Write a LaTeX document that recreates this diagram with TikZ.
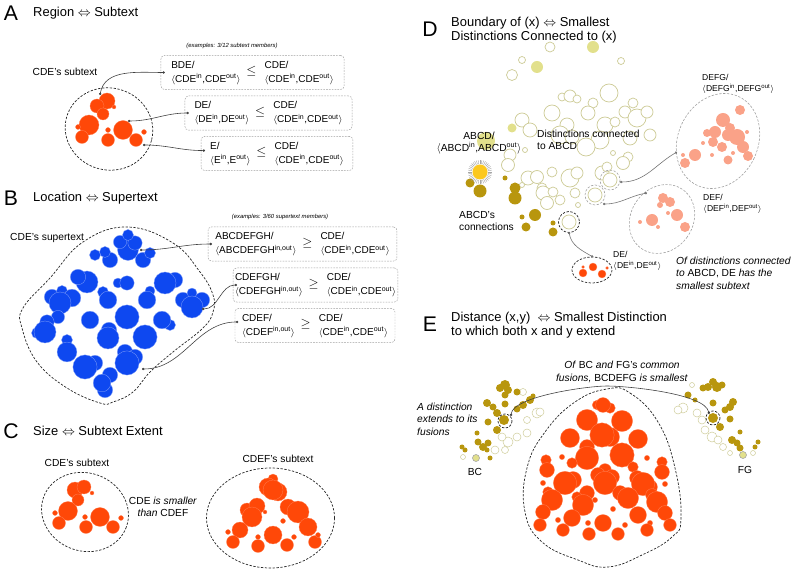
\documentclass[tikz,border=0pt]{standalone}
\usepackage{fontspec}
\setmainfont{Liberation Sans}
\usetikzlibrary{positioning,arrows.meta}

\definecolor{subred}{RGB}{255,72,8}
\definecolor{superblue}{RGB}{14,72,240}
\definecolor{olivegold}{RGB}{184,150,14}
\definecolor{palegold}{RGB}{226,224,140}
\definecolor{paleline}{RGB}{205,203,150}
\definecolor{peach}{RGB}{250,162,136}
\definecolor{sungold}{RGB}{252,200,30}

\newcommand{\pairio}[1]{$\langle$#1\textsuperscript{in},#1\textsuperscript{out}$\rangle$}
\newcommand{\cmprow}[5]{%
  \begin{tabular}[c]{@{}l@{}}#1\\#2\end{tabular}%
  \hspace{5pt}{\fontsize{11}{11}\selectfont$#3$}\hspace{7pt}%
  \begin{tabular}[c]{@{}l@{}}#4\\#5\end{tabular}}

\begin{document}
\begin{tikzpicture}[x=0.85pt, y=-0.85pt,
    panel/.style={font=\fontsize{18}{18}\selectfont, inner sep=0},
    ttl/.style={font=\fontsize{11}{12}\selectfont, anchor=west, align=left, inner sep=0},
    lbl/.style={font=\fontsize{8.7}{10.6}\selectfont, inner sep=0},
    sml/.style={font=\fontsize{7.3}{9.4}\selectfont, inner sep=0, anchor=west, align=left},
    note/.style={font=\fontsize{5}{6}\selectfont\itshape, inner sep=0},
    cmpbox/.style={draw=gray!75, dash pattern=on 1.4pt off 1pt, rounded corners=3pt, font=\fontsize{8.5}{11.8}\selectfont, inner sep=0, minimum height=29pt},
    link/.style={draw=black!75, line width=0.5pt, arrows={Circle[length=2pt]-Circle[length=2pt]}},
    bdash/.style={draw=black!85, line width=0.6pt, dash pattern=on 2pt off 1.3pt},
    gdash/.style={draw=gray!75, line width=0.5pt, dash pattern=on 2pt off 1.3pt},
    hotdot/.style={fill=subred, draw=subred!70!white, line width=0.25pt},
    bluedot/.style={fill=superblue, draw=superblue!55!white, line width=0.3pt},
    golddot/.style={fill=olivegold},
    palefill/.style={fill=palegold},
    ringdot/.style={draw=paleline, fill=white, line width=0.6pt},
    peachdot/.style={fill=peach},
  ]
  \useasboundingbox (0,0) rectangle (796,573);

  % ---------------- A: Region <=> Subtext
  \node[panel] (letterA) at (11,13) {A};
  \node[ttl] (titleA) at (33,13) {Region $\Leftrightarrow$ Subtext};
  \node[lbl] (subA) at (65,72) {CDE’s subtext};
  \node[note] (noteA) at (232,46) {(examples: 3/12 subtext members)};
  \draw[bdash, rotate around={-15:(109,129)}] (109,129) ellipse [x radius=44, y radius=41];
  \foreach \x/\y/\r in {107/101/8, 97/106/7, 103/114/6, 114/107/2, 89/125/10, 78/127/2.5,
      82/137/6.5, 108/130/2.5, 108/140/6.5, 123/130/9.5, 136/140/6.5, 144/132/2.5}
    \path[hotdot] (\x,\y) circle (\r);

  \node[cmpbox, minimum width=155.6pt] (boxA1) at (252.5,72.5)
    {\cmprow{BDE/}{\pairio{CDE}}{\leq}{CDE/}{\pairio{CDE}}};
  \node[cmpbox, minimum width=142pt] (boxA2) at (268.5,113)
    {\cmprow{DE/}{\pairio{DE}}{\leq}{CDE/}{\pairio{CDE}}};
  \node[cmpbox, minimum width=129pt] (boxA3) at (277,153.5)
    {\cmprow{E/}{\pairio{E}}{\leq}{CDE/}{\pairio{CDE}}};

  \coordinate (pA1) at (100,95);
  \coordinate (pA2) at (128,121);
  \coordinate (pA3) at (143,145);
  \draw[link] (pA1) to[out=80,in=180] ([xshift=3.5pt]boxA1.west);
  \draw[link] (pA2) to[out=0,in=180] ([xshift=3.5pt]boxA2.west);
  \draw[link] (pA3) to[out=0,in=180] ([xshift=3.5pt,yshift=2.5pt]boxA3.west);

  % ---------------- B: Location <=> Supertext
  \node[panel] (letterB) at (11,198) {B};
  \node[ttl] (titleB) at (33,198) {Location $\Leftrightarrow$ Supertext};
  \node[lbl, anchor=west] (supB) at (10,238) {CDE’s supertext};
  \node[note] (noteB) at (280,217) {(examples: 3/60 supertext members)};
  \draw[bdash] plot[smooth cycle, tension=0.7] coordinates {(127,227) (173,243) (200,272) (213,295)
      (213,312) (203,328) (173,352) (150,372) (133,392) (113,402) (100,403) (67,388) (37,362)
      (22,328) (23,308) (50,278) (83,242)};
  \foreach \x/\y/\r in {128/250/9.5, 120/242/6, 135/243/6.5, 128/235/5, 143/260/7, 150/253/5,
      110/260/7, 105/252/5, 95/255/5, 87/282/10, 78/277/7, 52/297/7, 62/291/5, 72/298/8,
      60/303/10, 58/317/6, 37/333/5, 47/322/6.5, 45/332/10, 67/340/5, 67/352/9, 95/363/7,
      85/367/11, 110/375/7, 105/390/7, 102/383/8, 103/292/5, 108/300/8, 118/283/4.5,
      127/283/6.5, 90/320/8, 127/317/11, 109/330/7, 108/338/10, 125/352/7, 135/357/7,
      127/363/11, 145/337/11, 150/291/4.5, 147/300/8, 175/280/7, 165/283/10, 170/325/5,
      162/320/8, 183/300/7, 202/300/7, 192/293/4.5, 192/307/10}
    \path[bluedot] (\x,\y) circle ({\r*1.1});

  \node[cmpbox, minimum width=160.6pt] (boxB1) at (302.5,244)
    {\cmprow{ABCDEFGH/}{$\langle$ABCDEFGH\textsuperscript{in,out}$\rangle$}{\geq}{CDE/}{\pairio{CDE}}};
  \node[cmpbox, minimum width=140pt] (boxB2) at (315.5,285)
    {\cmprow{CDEFGH/}{$\langle$CDEFGH\textsuperscript{in,out}$\rangle$}{\geq}{CDE/}{\pairio{CDE}}};
  \node[cmpbox, minimum width=136pt] (boxB3) at (315,325.5)
    {\cmprow{CDEF/}{$\langle$CDEF\textsuperscript{in,out}$\rangle$}{\geq}{CDE/}{\pairio{CDE}}};

  \coordinate (pB1) at (140,250);
  \coordinate (pB2) at (202,309);
  \coordinate (pB3) at (142,369);
  \draw[link] (pB1) to[out=0,in=180] ([xshift=3.5pt]boxB1.west);
  \draw[link] (pB2) to[out=0,in=180] ([xshift=3.5pt]boxB2.west);
  \draw[link] (pB3) to[out=0,in=180] ([xshift=3pt,yshift=3pt]boxB3.west);

  % ---------------- C: Size <=> Subtext Extent
  \node[panel] (letterC) at (11,431) {C};
  \node[ttl] (titleC) at (33,431) {Size $\Leftrightarrow$ Subtext Extent};
  \node[lbl] (subC1) at (77,463) {CDE’s subtext};
  \node[lbl] (subC2) at (278,459) {CDEF’s subtext};
  \node[lbl, align=center] (cmpC) at (163,507) {CDE \textit{is smaller}\\\textit{than} CDEF};
  \draw[bdash, rotate around={-20:(85,512)}] (85,512) ellipse [x radius=44, y radius=39];
  \draw[bdash] (270.5,518) ellipse [x radius=64, y radius=50];
  \foreach \x/\y/\r in {75/490/8, 84/487/7, 78/500/6, 92/493/2, 68/511/9.5, 55/513/2.5,
      59/523/6.5, 85/517/2.5, 86/527/6.5, 100/517/9.5, 113/527/6.5, 121/518/2.5}
    \path[hotdot] (\x,\y) circle (\r);
  \foreach \x/\y/\r in {273/479/5, 268/487/9, 278/492/9, 273/490/10, 247/510/7, 257/506/8,
      252/517/10, 265/512/2, 240/530/8, 228/532/2.5, 233/542/6.5, 258/537/2.5, 258/546/6.5,
      273/535/9, 283/521/2.5, 288/507/8, 298/512/11, 308/527/9, 287/545/6.5, 294/537/2.5,
      315/542/6.5, 318/535/2.5}
    \path[hotdot] (\x,\y) circle (\r);

  % ---------------- D: Boundary
  \node[panel] (letterD) at (430,29) {D};
  \node[ttl] (titleD) at (451,30) {Boundary of (x) $\Leftrightarrow$ Smallest\\Distinctions Connected to (x)};
  \foreach \x/\y/\r in {550/47/5, 522/60/3.5, 512/75/5.5, 621/61/3.5, 562/97/4, 570/96/6,
      577/99/4, 609/93/9, 593/103/5, 633/103/5, 552/113/8, 588/113/7, 625/112/6, 637/118/9,
      647/112/6, 522/120/7, 530/130/7, 567/125/7, 605/125/8, 615/122/5, 560/135/9, 572/137/7,
      600/140/9, 586/147/9, 630/138/7, 650/135/6, 613/153/2.5, 628/157/5, 525/150/2.5,
      510/155/6, 508/165/6.5, 528/178/7, 537/177/6.5, 552/172/5, 570/178/9, 577/173/6,
      602/173/7, 607/167/5, 623/163/6.5, 542/188/5, 543/193/7, 553/192/5, 547/203/6.5,
      560/200/5, 575/193/5, 578/205/2.5, 522/185/2.5, 569/222/7, 610/180/7, 595/195/7}
    \path[ringdot] (\x,\y) circle (\r);
  \foreach \x/\y/\r in {593/47/6, 537/67/6, 512/128/4.5, 486/141/9}
    \path[palefill] (\x,\y) circle (\r);
  \foreach \x/\y/\r in {470/183/4.5, 480/191/6.5, 505/178/2.5, 515/188/5.5, 515/198/6.5,
      535/215/6, 522/217/2.5, 526/227/4.5, 553/223/2.5, 553/232/4.5}
    \path[golddot] (\x,\y) circle (\r);
  \coordinate (sun) at (480,172);
  \foreach \a in {0,9,...,351}
    \draw[gray!70, line width=0.35pt] (sun) ++(\a:8) -- ++(\a:4);
  \fill[sungold] (sun) circle (7.5);

  \draw[bdash] (569,222) circle (10.5);
  \draw[gdash] (610,180) circle (10);
  \draw[gdash] (595,195) circle (10);

  \draw[gdash, rotate around={-25:(718,141)}] (718,141) ellipse [x radius=40, y radius=49];
  \draw[gdash, rotate around={-35:(662,219)}] (662,219) ellipse [x radius=31, y radius=36];
  \draw[bdash] (592,270) ellipse [x radius=20, y radius=13];
  \foreach \x/\y/\r in {740/110/5, 723/120/7, 730/128/5, 715/132/6, 707/133/4, 728/135/6,
      737/137/8, 743/147/6, 722/147/5, 713/142/5, 703/143/2, 695/155/6, 685/163/5, 683/155/2,
      712/155/2, 728/160/4.5, 748/156/5, 733/153/2, 747/132/2,
      663/198/5, 670/202/5, 660/205/3, 677/215/6, 652/220/6, 668/213/2, 685/227/5, 640/222/2,
      658/227/2}
    \path[peachdot] (\x,\y) circle (\r);
  \foreach \x/\y/\r in {593/267/4, 583/273/4, 602/274/4, 583/267/1.5, 607/268/1.5}
    \path[hotdot] (\x,\y) circle (\r);

  \node[lbl, align=center] (abcd) at (479,143) {ABCD/\\$\langle$ABCD\textsuperscript{in},ABCD\textsuperscript{out}$\rangle$};
  \node[lbl, anchor=west, align=left] (connD) at (537,140) {Distinctions connected\\to ABCD};
  \node[lbl, anchor=west, align=left] (abcdConn) at (459,221) {ABCD’s\\connections};
  \node[sml] (defg) at (702,84) {DEFG/\\\pairio{DEFG}};
  \node[sml] (def) at (703,204) {DEF/\\\pairio{DEF}};
  \node[sml] (de) at (613,261) {DE/\\\pairio{DE}};
  \node[lbl, anchor=west, align=left] (smallD) at (676,273)
    {\textit{Of distinctions connected}\\\textit{to} ABCD, DE \textit{has the}\\\textit{smallest subtext}};

  \coordinate (dA) at (620,182);
  \coordinate (dB) at (603,204);
  \coordinate (dC) at (569,232);
  \coordinate (eDEFG) at (677,152);
  \coordinate (eDEF) at (647,193);
  \coordinate (eDE) at (593,257);
  \draw[link, draw=gray!90!black] (dA) to[out=0,in=210] (eDEFG);
  \draw[link, draw=gray!90!black] (dB) to[out=0,in=190] (eDEF);
  \draw[link, draw=gray!90!black] (dC) to[out=-80,in=150] (eDE);

  % ---------------- E: Distance
  \node[panel] (letterE) at (430,324) {E};
  \node[ttl] (titleE) at (451,325) {Distance (x,y) \ $\Leftrightarrow$ Smallest Distinction\\to which both x and y extend};
  \draw[bdash] plot[smooth cycle, tension=0.75] coordinates {(607,389) (630,393) (658,422) (675,468)
      (681,518) (672,537) (642,555) (608,567) (578,560) (542,542) (525,512) (527,468)
      (545,432) (575,402)};
  \foreach \x/\y/\r in {597/405/4.5, 610/408/5, 603/405/7, 587/420/10, 622/421/10, 610/437/9,
      602/435/11.5, 570/438/9, 638/439/9, 587/447/7, 587/458/11, 622/455/11.5, 562/457/2.5,
      572/463/5, 546/460/5, 547/470/7, 647/458/2.5, 662/462/5, 662/472/7, 633/467/5,
      605/470/6, 598/475/7, 612/477/7, 605/483/11, 573/480/8, 565/483/11, 637/478/7,
      650/487/7, 643/484/11, 543/483/2.5, 665/484/2.5, 548/492/5, 552/500/10, 587/493/7,
      577/497/5, 583/505/10, 620/493/7, 628/498/10, 652/495/6, 657/502/10, 595/500/2.5,
      613/509/2.5, 543/512/7, 665/513/7, 572/518/8, 638/515/8, 540/525/6, 670/525/6,
      558/520/2.5, 650/523/2.5, 563/530/6, 647/530/6, 603/523/8, 588/523/2.5, 625/525/2.5,
      589/534/6, 618/534/6}
    \path[hotdot] (\x,\y) circle ({\r*1.06});

  \foreach \x/\y/\r in {523/392/3.5, 537/413/5, 540/412/4, 527/420/3.5, 517/437/4, 508/442/5,
      502/437/4, 527/433/4, 505/450/3.5, 495/450/4, 463/457/2.5,
      692/385/2.5, 683/408/5, 678/410/4, 697/413/4, 702/420/4, 705/430/4, 712/437/5,
      718/440/4, 723/447/3.5, 753/453/2.5, 730/453/2.5}
    \path[ringdot, line width=0.4pt] (\x,\y) circle (\r);
  \foreach \x/\y/\r in {505/385/5, 500/388/4, 508/390/4, 505/395/3.5, 487/403/4, 493/407/3.5,
      517/392/3.5, 505/404/3.5, 497/413/4, 488/422/3.5, 504/420/5, 517/409/3.5, 523/405/4,
      530/400/4, 533/396/2.5, 497/430/4, 477/433/2.5, 478/442/3.5, 483/447/4, 488/443/3.5,
      487/450/2.5, 462/447/2.5, 465/450/2.5, 490/458/2.5,
      713/382/4, 717/387/5, 708/387/4, 722/385/3.5, 703/388/3.5, 688/395/3.5, 713/403/3.5,
      733/402/4, 730/407/4, 725/410/3.5, 695/400/2.5, 713/418/5, 730/419/3.5, 720/427/4,
      740/432/2.5, 732/440/4, 737/443/3.5, 740/448/3.5, 755/447/2.5, 758/442/2.5}
    \path[golddot] (\x,\y) circle (\r);
  \path[palefill, draw=gray!70, line width=0.5pt] (476,458) circle (3.5);
  \path[palefill, draw=gray!70, line width=0.5pt] (743,455) circle (3.5);
  \draw[bdash] (505,421) circle (7);
  \draw[bdash] (713,418) circle (7);

  \node[lbl] (bc) at (475,472) {BC};
  \node[lbl] (fg) at (745,470) {FG};
  \node[lbl, anchor=west, align=left] (extE) at (417,419)
    {\textit{A distinction}\\\textit{extends to its}\\\textit{fusions}};
  \node[lbl, align=center] (commonE) at (622,372)
    {\textit{Of} BC \textit{and} FG’s \textit{common}\\\textit{fusions,} BCDEFG \textit{is smallest}};

  \coordinate (fuseL) at (511,416);
  \coordinate (peak) at (607,386);
  \coordinate (fuseR) at (709,414);
  \draw[link] (fuseL) to[out=85,in=180,looseness=0.5] (peak) to[out=0,in=100,looseness=0.5] (fuseR);
\end{tikzpicture}
\end{document}
